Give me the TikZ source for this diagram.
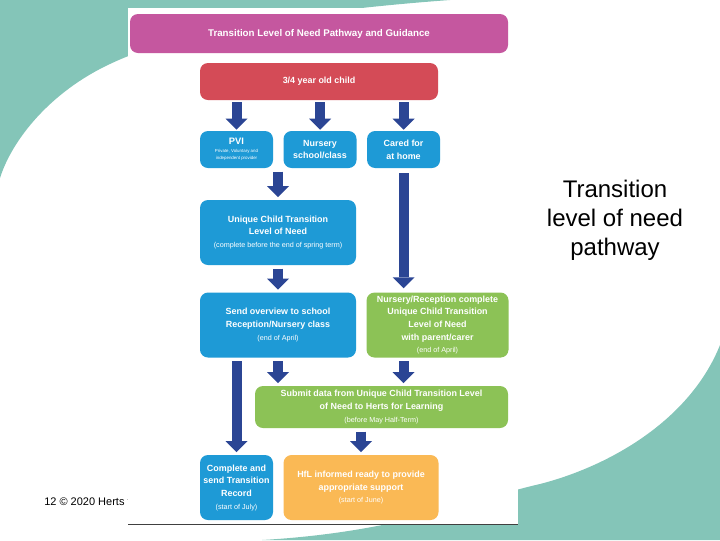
\documentclass[tikz,border=0pt]{standalone}
\usepackage{fontspec}
\setmainfont{Liberation Sans}
\usepackage{xcolor}
\definecolor{tlteal}{HTML}{84C5B8}
\definecolor{tlpink}{HTML}{C5579F}
\definecolor{tlred}{HTML}{D44B57}
\definecolor{tlblue}{HTML}{1E9AD6}
\definecolor{tlgreen}{HTML}{8CC256}
\definecolor{tlorange}{HTML}{FAB955}
\definecolor{tlnavy}{HTML}{2B4594}
\usetikzlibrary{arrows.meta,positioning}
\newcommand\tlnote{\fontsize{5.4}{9.5}\selectfont\mdseries}
\newcommand\tltiny{\fontsize{3.3}{4}\selectfont\mdseries}
\tikzset{
  stage/.style={rounded corners=6pt,text=white,align=center,inner sep=0pt,font=\fontsize{6.7}{9.5}\selectfont\bfseries},
  bluebox/.style={stage,fill=tlblue},
  greenbox/.style={stage,fill=tlgreen},
  small/.style={minimum width=54.75pt,minimum height=27.75pt},
  tall/.style={minimum height=48.75pt},
  push/.style={draw=tlnavy,line width=7.5pt,-{Triangle[length=8.25pt,width=16.5pt,line width=0pt]},shorten <=2.5pt,shorten >=2pt},
}

\begin{document}
\begin{tikzpicture}[x=0.75pt,y=-0.75pt]
\useasboundingbox (0,0) rectangle (720,540);
% slide background
\fill[tlteal] (0,0) -- (450,0) .. controls (260,14) and (160,40) .. (110,64) .. controls (50,92) and (12,140) .. (0,178) -- cycle;
\fill[tlteal] (262,540) .. controls (400,532) and (470,500) .. (540,484) .. controls (610,466) and (690,420) .. (720,345) -- (720,540) -- cycle;
\node[anchor=west,inner sep=0pt,font=\fontsize{8.25}{10}\selectfont] (foot) at (44,503) {12 © 2020 Herts for Learning};
\fill[white] (128,8) rectangle (518,524);
\draw[black!75,line width=0.6pt] (128,524) -- (518,524);
\node[align=center,font=\fontsize{18}{21.75}\selectfont] (side) at (615,220) {Transition\\level of need\\pathway};
% pathway
\node[stage,fill=tlpink,minimum width=283.5pt,minimum height=29.25pt,font=\fontsize{7.3}{9}\selectfont\bfseries] (title) at (319,33.5) {Transition Level of Need Pathway and Guidance};
\node[stage,fill=tlred,minimum width=178.5pt,minimum height=27.75pt] (child) at (319,81.5) {3/4 year old child};
\node[bluebox,small,font=\fontsize{7}{5.5}\selectfont\bfseries] (pvi) at (236.5,149.5) {PVI\\\tltiny Private, Voluntary and\\\tltiny independent provider};
\node[bluebox,small,right=7.5pt of pvi] (nursery) {Nursery\\school/class};
\node[bluebox,small,right=7.5pt of nursery] (cared) {Cared for\\at home};
\node[bluebox,tall,minimum width=117pt] (unique) at (278,232.5) {Unique Child Transition\\Level of Need\\\tlnote (complete before the end of spring term)};
\node[bluebox,tall,minimum width=117pt,below=20.25pt of unique] (send) {Send overview to school\\Reception/Nursery class\\\tlnote (end of April)};
\node[greenbox,tall,minimum width=106.5pt,right=7.5pt of send] (recep) {Nursery/Reception complete\\Unique Child Transition\\Level of Need\\with parent/carer\\\tlnote (end of April)};
\node[greenbox,minimum width=189.75pt,minimum height=31.5pt] (submit) at (381.5,407) {Submit data from Unique Child Transition Level\\of Need to Herts for Learning\\\tlnote (before May Half-Term)};
\node[bluebox,tall,minimum width=54.75pt] (complete) at (236.5,487.5) {Complete and\\send Transition\\Record\\\tlnote (start of July)};
\node[stage,fill=tlorange,tall,minimum width=116.25pt,right=7.5pt of complete] (hfl) {HfL informed ready to provide\\appropriate support\\\tlnote (start of June)};
% arrows
\foreach \n in {pvi,nursery,cared}
  \draw[push,shorten <=1.5pt,shorten >=0.75pt] (child.south -| \n.north) -- (\n.north);
\draw[push] (unique.north |- pvi.south) -- (unique.north);
\draw[push,shorten <=3.75pt,shorten >=3pt] (cared.south) -- (cared.south |- recep.north);
\draw[push] (unique.south) -- (send.north);
\draw[push] (complete.north |- send.south) -- (complete.north);
\draw[push] (send.south) -- (send.south |- submit.north);
\draw[push] (cared.south |- recep.south) -- (cared.south |- submit.north);
\draw[push] (hfl.north |- submit.south) -- (hfl.north);
\end{tikzpicture}
\end{document}
